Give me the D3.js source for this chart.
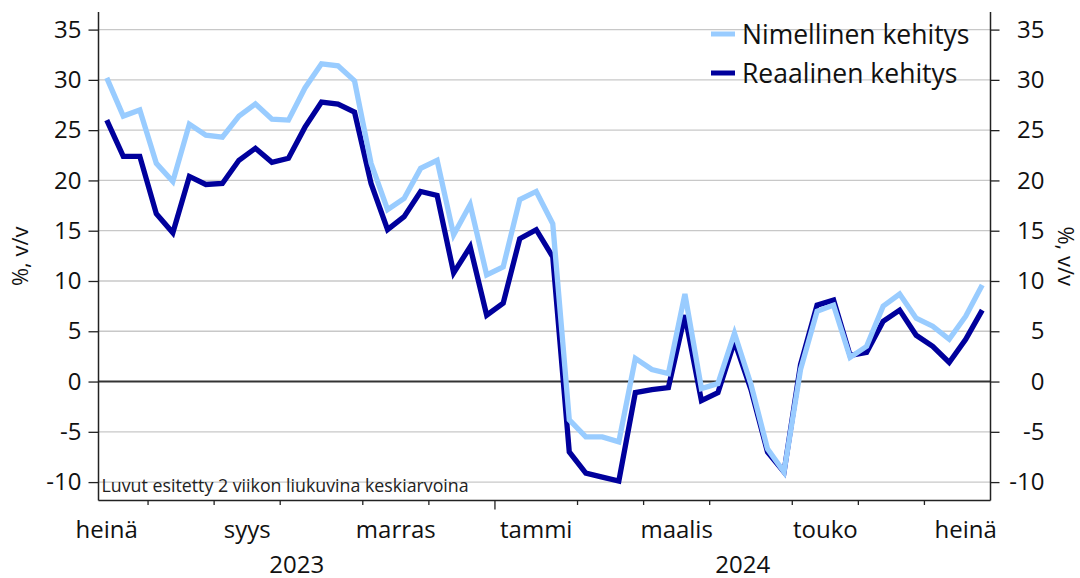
<!DOCTYPE html>
<html>
<head>
<meta charset="utf-8">
<script src="https://cdn.jsdelivr.net/npm/d3@7"></script>
<style>
  body { margin: 0; background: #fff; }
  svg { font-family: "Open Sans", sans-serif; }
</style>
</head>
<body>
<div id="chart"></div>
<script>
// viikoittaiset arvot, 2 viikon liukuva keskiarvo
var firstWeek = new Date(2023, 6, 17);

var nominal = [30.2, 26.4, 27.0, 21.7, 19.9, 25.6, 24.5, 24.3, 26.4, 27.6,
  26.1, 26.0, 29.2, 31.6, 31.4, 29.9, 21.7, 17.1, 18.2, 21.2,
  22.0, 14.6, 17.6, 10.6, 11.4, 18.1, 18.9, 15.7, -3.8, -5.5,
  -5.5, -6.0, 2.3, 1.2, 0.8, 8.7, -0.7, -0.2, 4.8, -0.3,
  -6.7, -9.0, 1.2, 7.0, 7.6, 2.4, 3.5, 7.5, 8.7, 6.3,
  5.5, 4.2, 6.5, 9.6];

var real = [26.0, 22.4, 22.4, 16.7, 14.8, 20.4, 19.6, 19.7, 22.0, 23.2,
  21.8, 22.2, 25.3, 27.8, 27.6, 26.8, 19.7, 15.1, 16.4, 18.9,
  18.5, 10.8, 13.4, 6.6, 7.8, 14.2, 15.1, 12.4, -7.0, -9.1,
  -9.5, -9.9, -1.1, -0.8, -0.6, 6.6, -1.9, -1.1, 4.0, -0.8,
  -7.0, -9.0, 1.7, 7.6, 8.1, 2.6, 2.9, 6.0, 7.1, 4.6,
  3.5, 1.9, 4.2, 7.1];

var seriesNames = ["Nimellinen kehitys", "Reaalinen kehitys"];
var monthLabels = ["heinä", "syys", "marras", "tammi", "maalis", "touko", "heinä"];
var monthDates = [new Date(2023, 6, 1), new Date(2023, 8, 1), new Date(2023, 10, 1),
  new Date(2024, 0, 1), new Date(2024, 2, 1), new Date(2024, 4, 1), new Date(2024, 6, 1)];
var yearLabels = ["2023", "2024"];
var yTicks = [-10, -5, 0, 5, 10, 15, 20, 25, 30, 35];
var note = "Luvut esitetty 2 viikon liukuvina keskiarvoina";

var width = 1080,
    height = 578;

var pLeft = 98.5, pRight = 990.5, pTop = 12, pBottom = 500.5;

var svg = d3.select("#chart")
    .append("svg")
    .attr("width", width)
    .attr("height", height);

var n = nominal.length;
var weeks = d3.timeMonday.range(firstWeek, d3.timeDay.offset(firstWeek, 7 * n));

function weekIndex(d) {
    return d3.timeDay.count(firstWeek, d) / 7;
}

var xScale = d3.scaleLinear()
    .domain([-0.5, n - 0.5])
    .range([pLeft, pRight]);

var yScale = d3.scaleLinear()
    .domain([-11.83, 36.75])
    .range([pBottom, pTop]);

// gridlines
svg.append("g")
    .selectAll("line")
    .data(yTicks.filter(function(d) { return d != 0; }))
    .enter().append("line")
    .attr("x1", pLeft).attr("x2", pRight)
    .attr("y1", function(d) { return yScale(d); })
    .attr("y2", function(d) { return yScale(d); })
    .attr("stroke", "#c8c8c8")
    .attr("stroke-width", 1.3);

svg.append("line")
    .attr("x1", pLeft).attr("x2", pRight)
    .attr("y1", yScale(0)).attr("y2", yScale(0))
    .attr("stroke", "#333")
    .attr("stroke-width", 2);

// footnote
svg.append("text")
    .attr("x", pLeft + 3)
    .attr("y", 492)
    .attr("font-size", 17.8)
    .attr("fill", "#222")
    .text(note);

// lines
var line = d3.line()
    .x(function(d, i) { return xScale(i); })
    .y(function(d) { return yScale(d); });

svg.append("path")
    .attr("d", line(real))
    .attr("stroke", "#00009c")
    .attr("stroke-width", 5.3)
    .attr("fill", "none");

svg.append("path")
    .attr("d", line(nominal))
    .attr("stroke", "#99ccff")
    .attr("stroke-width", 5.3)
    .attr("fill", "none");

// y axes
var fmt = function(d) { return String(d); };

var yLeft = svg.append("g")
    .attr("transform", "translate(" + pLeft + ",0)")
    .call(d3.axisLeft(yScale).tickValues(yTicks).tickFormat(fmt)
        .tickSize(10).tickSizeOuter(0).tickPadding(7));

var yRight = svg.append("g")
    .attr("transform", "translate(" + pRight + ",0)")
    .call(d3.axisRight(yScale).tickValues(yTicks).tickFormat(fmt)
        .tickSize(9).tickSizeOuter(0));

yRight.selectAll("text")
    .attr("x", 54)
    .attr("text-anchor", "end");

[yLeft, yRight].forEach(function(g) {
    g.select(".domain").attr("stroke", "#222").attr("stroke-width", 1.5)
        .attr("d", "M0," + pTop + "V" + pBottom);
    g.selectAll(".tick line").attr("stroke", "#222").attr("stroke-width", 1.3);
    g.selectAll("text").attr("font-size", 24).attr("fill", "#111")
        .attr("font-family", "Open Sans");
});

// bottom frame line
svg.append("line")
    .attr("x1", pLeft).attr("x2", pRight)
    .attr("y1", pBottom).attr("y2", pBottom)
    .attr("stroke", "#222")
    .attr("stroke-width", 1.5);

// month ticks
var monthStarts = d3.timeMonth.range(d3.timeMonth.offset(d3.timeMonth.floor(firstWeek), 1),
    d3.timeDay.offset(weeks[n - 1], 1));

svg.append("g")
    .selectAll("line")
    .data(monthStarts)
    .enter().append("line")
    .attr("x1", function(d) { return xScale(weekIndex(d3.timeMonday.ceil(d)) - 0.5); })
    .attr("x2", function(d) { return xScale(weekIndex(d3.timeMonday.ceil(d)) - 0.5); })
    .attr("y1", pBottom)
    .attr("y2", function(d) { return d.getMonth() == 0 ? pBottom + 9 : pBottom + 4.5; })
    .attr("stroke", "#222")
    .attr("stroke-width", 1.3);

// month labels, centred on the month's weeks
svg.append("g")
    .selectAll("text")
    .data(monthDates)
    .enter().append("text")
    .attr("x", function(d) {
        var mondays = d3.timeMonday.range(d, d3.timeMonth.offset(d, 1));
        return xScale(d3.mean(mondays, weekIndex));
    })
    .attr("y", 538)
    .attr("text-anchor", "middle")
    .attr("font-size", 24)
    .attr("fill", "#111")
    .text(function(d, i) { return monthLabels[i]; });

// year labels
var yearSpans = [
    weeks.filter(function(d) { return d.getFullYear() == 2023; }),
    weeks.filter(function(d) { return d.getFullYear() == 2024; })
];
svg.append("g")
    .selectAll("text")
    .data(yearSpans)
    .enter().append("text")
    .attr("x", function(d) { return xScale(d3.mean(d, weekIndex)); })
    .attr("y", 573)
    .attr("text-anchor", "middle")
    .attr("font-size", 24)
    .attr("fill", "#111")
    .text(function(d, i) { return yearLabels[i]; });

// axis titles
var midY = (pTop + pBottom) / 2;
svg.append("text")
    .attr("transform", "translate(28," + midY + ") rotate(-90)")
    .attr("text-anchor", "middle")
    .attr("font-size", 22)
    .attr("fill", "#111")
    .text("%, v/v");

svg.append("text")
    .attr("transform", "translate(1058," + midY + ") rotate(90)")
    .attr("text-anchor", "middle")
    .attr("font-size", 22)
    .attr("fill", "#111")
    .text("%, v/v");

// legend
var legend = svg.append("g")
    .selectAll("g")
    .data(seriesNames)
    .enter().append("g")
    .attr("transform", function(d, i) { return "translate(711," + (34 + i * 39) + ")"; });

legend.append("line")
    .attr("x1", 0).attr("x2", 24)
    .attr("stroke", function(d, i) { return i == 0 ? "#99ccff" : "#00009c"; })
    .attr("stroke-width", 5);

legend.append("text")
    .attr("x", 31)
    .attr("y", 10)
    .attr("font-size", 26.5)
    .attr("fill", "#111")
    .text(function(d) { return d; });
</script>
</body>
</html>
